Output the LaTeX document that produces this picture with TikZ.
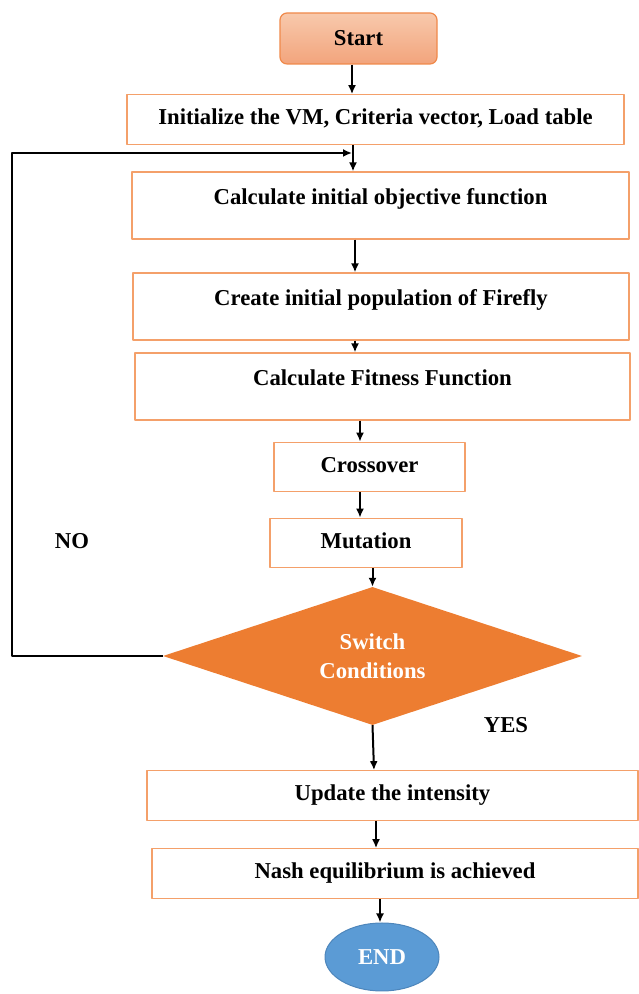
\documentclass[tikz,border=0pt]{standalone}
\usepackage{fontspec}
\setmainfont{Liberation Serif}
\usepackage{tikz}
\usetikzlibrary{shapes,arrows,arrows.meta,positioning,calc}
\definecolor{boxline}{HTML}{F4A06A}
\definecolor{starttop}{HTML}{F8C9AC}
\definecolor{startbot}{HTML}{F2A47C}
\definecolor{startline}{HTML}{F0894A}
\definecolor{decfill}{HTML}{ED7D31}
\definecolor{endfill}{HTML}{5B9BD5}
\definecolor{endline}{HTML}{4E86BB}
\begin{document}
\begin{tikzpicture}[>={Latex[length=9bp,width=8bp]},line join=bevel,
  every node/.style={font=\fontsize{22.8}{29}\selectfont\bfseries},
  flow/.style={->,line width=2bp},
  stepbox/.style={draw=boxline,line width=1.2bp,rectangle,inner xsep=0pt,inner ysep=0pt,text height=30bp,text depth=19.5bp},
  tallbox/.style={stepbox,text height=33bp,text depth=34bp},
  startbox/.style={draw=startline,line width=1.2bp,rounded corners=7bp,top color=starttop,bottom color=startbot,minimum width=157bp,minimum height=51bp},
  decision/.style={diamond,fill=decfill,aspect=3,inner sep=0pt,minimum width=419bp,minimum height=138bp,text=white,align=center},
  endnode/.style={ellipse,draw=endline,line width=1bp,fill=endfill,minimum width=114bp,minimum height=68bp,text=white}]
\useasboundingbox (0,0) rectangle (639bp,994bp);
%%
\node (start) at (358.5bp,955.5bp) [startbox] {Start};
  \node (init) at (375.5bp,874.5bp) [stepbox,minimum width=497bp] {Initialize the VM, Criteria vector, Load table};
  \node (objfn) at (380.5bp,788.5bp) [tallbox,minimum width=497bp] {Calculate initial objective function};
  \node (popul) at (381bp,687.5bp) [tallbox,minimum width=496bp] {Create initial population of Firefly};
  \node (fitness) at (382.5bp,607.5bp) [tallbox,minimum width=495bp] {Calculate Fitness Function};
  \node (cross) at (369.5bp,527bp) [stepbox,minimum width=191bp] {Crossover};
  \node (mutate) at (366bp,451bp) [stepbox,minimum width=192bp] {Mutation};
  \node (switch) at (372.5bp,338bp) [decision] {Switch\\Conditions};
  \node (update) at (392.5bp,198.5bp) [stepbox,minimum width=491bp] {Update the intensity};
  \node (nash) at (395bp,120.5bp) [stepbox,minimum width=486bp] {Nash equilibrium is achieved};
  \node (finish) at (382bp,37bp) [endnode] {END};
  \node (no) at (72bp,453bp) {NO};
  \node (yes) at (506bp,269bp) {YES};
  \coordinate (loopin) at (352bp,841bp);
  \coordinate (loopcorner) at (12bp,338bp);
%
\draw [flow] (352bp,0 |- start.south) -- (352bp,0 |- init.north);
  \draw [flow] (353bp,0 |- init.south) -- (353bp,0 |- objfn.north);
  \draw [flow] (355bp,0 |- objfn.south) -- (355bp,0 |- popul.north);
  \draw [flow] (355bp,0 |- popul.south) -- (355bp,0 |- fitness.north);
  \draw [flow] (360bp,0 |- fitness.south) -- (360bp,0 |- cross.north);
  \draw [flow] (360bp,0 |- cross.south) -- (360bp,0 |- mutate.north);
  \draw [flow] (372.5bp,0 |- mutate.south) -- (switch.north);
  \draw [flow] (switch.south) -- (374bp,0 |- update.north);
  \draw [flow] (376bp,0 |- update.south) -- (376bp,0 |- nash.north);
  \draw [flow] (380bp,0 |- nash.south) -- (380bp,0 |- finish.north);
  \draw [flow] (switch.west) -- (loopcorner) |- (loopin);
%
\end{tikzpicture}
\end{document}
